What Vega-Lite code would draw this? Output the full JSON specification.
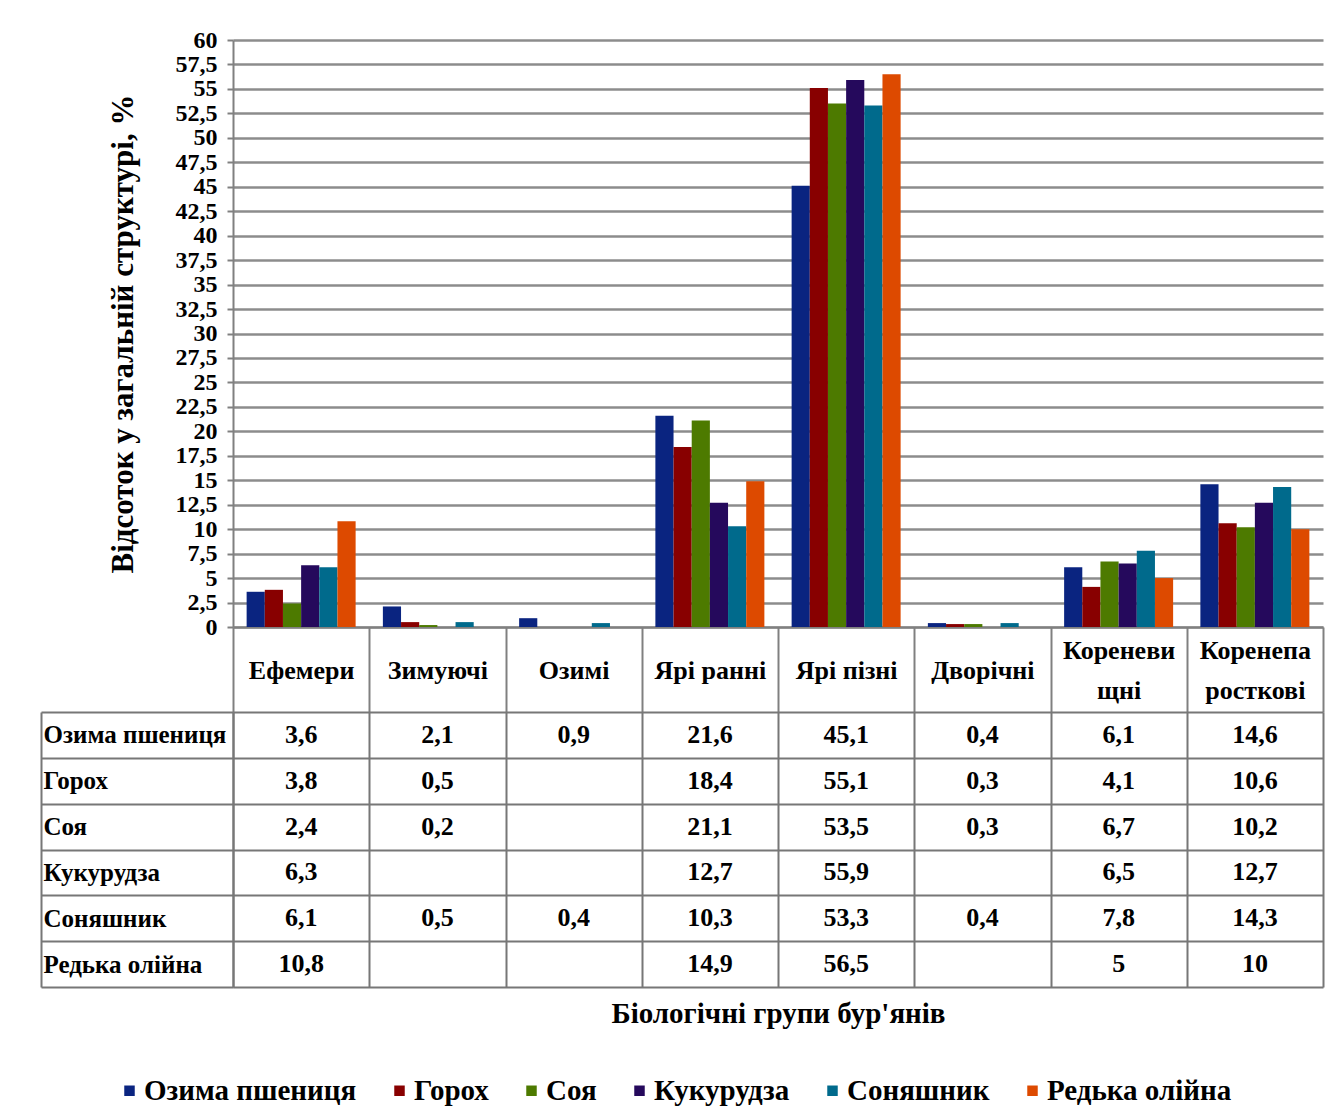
{
  "$schema": "https://vega.github.io/schema/vega-lite/v6.json",
  "padding": {"left": 40, "top": 28, "right": 10, "bottom": 5},
  "bounds": "flush",
  "spacing": 85,
  "config": {
    "locale": {"number": {"decimal": ",", "thousands": " ", "grouping": [3], "currency": ["", ""]}},
    "font": "Liberation Serif",
    "view": {"stroke": null},
    "axis": {
      "labelFont": "Liberation Serif", "labelFontWeight": "bold", "labelColor": "#000",
      "titleFont": "Liberation Serif", "titleFontWeight": "bold", "titleColor": "#000",
      "domainColor": "#808080", "tickColor": "#808080", "gridColor": "#8c8c8c",
      "domainWidth": 2, "tickWidth": 2, "gridWidth": 2.5
    }
  },
  "data": {"values": [
    {"group": "Ефемери", "crop": "Озима пшениця", "value": 3.6},
    {"group": "Ефемери", "crop": "Горох", "value": 3.8},
    {"group": "Ефемери", "crop": "Соя", "value": 2.4},
    {"group": "Ефемери", "crop": "Кукурудза", "value": 6.3},
    {"group": "Ефемери", "crop": "Соняшник", "value": 6.1},
    {"group": "Ефемери", "crop": "Редька олійна", "value": 10.8},
    {"group": "Зимуючі", "crop": "Озима пшениця", "value": 2.1},
    {"group": "Зимуючі", "crop": "Горох", "value": 0.5},
    {"group": "Зимуючі", "crop": "Соя", "value": 0.2},
    {"group": "Зимуючі", "crop": "Соняшник", "value": 0.5},
    {"group": "Озимі", "crop": "Озима пшениця", "value": 0.9},
    {"group": "Озимі", "crop": "Соняшник", "value": 0.4},
    {"group": "Ярі ранні", "crop": "Озима пшениця", "value": 21.6},
    {"group": "Ярі ранні", "crop": "Горох", "value": 18.4},
    {"group": "Ярі ранні", "crop": "Соя", "value": 21.1},
    {"group": "Ярі ранні", "crop": "Кукурудза", "value": 12.7},
    {"group": "Ярі ранні", "crop": "Соняшник", "value": 10.3},
    {"group": "Ярі ранні", "crop": "Редька олійна", "value": 14.9},
    {"group": "Ярі пізні", "crop": "Озима пшениця", "value": 45.1},
    {"group": "Ярі пізні", "crop": "Горох", "value": 55.1},
    {"group": "Ярі пізні", "crop": "Соя", "value": 53.5},
    {"group": "Ярі пізні", "crop": "Кукурудза", "value": 55.9},
    {"group": "Ярі пізні", "crop": "Соняшник", "value": 53.3},
    {"group": "Ярі пізні", "crop": "Редька олійна", "value": 56.5},
    {"group": "Дворічні", "crop": "Озима пшениця", "value": 0.4},
    {"group": "Дворічні", "crop": "Горох", "value": 0.3},
    {"group": "Дворічні", "crop": "Соя", "value": 0.3},
    {"group": "Дворічні", "crop": "Соняшник", "value": 0.4},
    {"group": "Кореневищні", "crop": "Озима пшениця", "value": 6.1},
    {"group": "Кореневищні", "crop": "Горох", "value": 4.1},
    {"group": "Кореневищні", "crop": "Соя", "value": 6.7},
    {"group": "Кореневищні", "crop": "Кукурудза", "value": 6.5},
    {"group": "Кореневищні", "crop": "Соняшник", "value": 7.8},
    {"group": "Кореневищні", "crop": "Редька олійна", "value": 5},
    {"group": "Коренепаросткові", "crop": "Озима пшениця", "value": 14.6},
    {"group": "Коренепаросткові", "crop": "Горох", "value": 10.6},
    {"group": "Коренепаросткові", "crop": "Соя", "value": 10.2},
    {"group": "Коренепаросткові", "crop": "Кукурудза", "value": 12.7},
    {"group": "Коренепаросткові", "crop": "Соняшник", "value": 14.3},
    {"group": "Коренепаросткові", "crop": "Редька олійна", "value": 10}
  ]},
  "vconcat": [
    {
      "width": 1090,
      "height": 587,
      "mark": {"type": "bar"},
      "encoding": {
        "x": {
          "field": "group", "type": "nominal",
          "sort": ["Ефемери", "Зимуючі", "Озимі", "Ярі ранні", "Ярі пізні", "Дворічні", "Кореневищні", "Коренепаросткові"],
          "scale": {"paddingInner": 0, "paddingOuter": 0},
          "axis": {
            "title": null, "labelAngle": 0, "tickBand": "extent", "tickSize": 85,
            "labelPadding": {"condition": {"test": "datum.value == 'Кореневищні' || datum.value == 'Коренепаросткові'", "value": -62}, "value": -42},
            "labelBaseline": "middle", "labelFontSize": 26, "labelLineHeight": 40,
            "labelExpr": "datum.value == 'Кореневищні' ? ['Кореневи', 'щні'] : datum.value == 'Коренепаросткові' ? ['Коренепа', 'росткові'] : datum.value"
          }
        },
        "xOffset": {
          "field": "crop",
          "sort": ["Озима пшениця", "Горох", "Соя", "Кукурудза", "Соняшник", "Редька олійна"],
          "scale": {"paddingInner": 0, "paddingOuter": 0.75}
        },
        "y": {
          "field": "value", "type": "quantitative",
          "scale": {"domain": [0, 60]},
          "axis": {
            "values": [0, 2.5, 5, 7.5, 10, 12.5, 15, 17.5, 20, 22.5, 25, 27.5, 30, 32.5, 35, 37.5, 40, 42.5, 45, 47.5, 50, 52.5, 55, 57.5, 60],
            "format": ".1~f", "labelOverlap": false, "labelFontSize": 24, "tickSize": 6, "labelPadding": 10,
            "title": "Відсоток у загальній структурі, %", "titleFontSize": 31, "titlePadding": 36
          }
        },
        "color": {
          "field": "crop", "type": "nominal",
          "sort": ["Озима пшениця", "Горох", "Соя", "Кукурудза", "Соняшник", "Редька олійна"],
          "scale": {"range": ["#0a2480", "#880000", "#4d7a00", "#25095c", "#006a8c", "#dd4a00"]},
          "legend": {
            "orient": "none", "legendX": -118, "legendY": 1036, "direction": "horizontal", "title": null,
            "symbolType": "square", "symbolSize": 110, "symbolStrokeWidth": 0,
            "labelFont": "Liberation Serif", "labelFontWeight": "bold", "labelFontSize": 29, "labelColor": "#000",
            "labelLimit": 300, "columnPadding": 28, "labelOffset": 0
          }
        }
      }
    },
    {
      "width": 1090,
      "height": 275,
      "layer": [
        {
          "mark": {"type": "text", "fontWeight": "bold", "fontSize": 26, "font": "Liberation Serif", "color": "#000"},
          "encoding": {
            "x": {
              "field": "group", "type": "nominal",
              "sort": ["Ефемери", "Зимуючі", "Озимі", "Ярі ранні", "Ярі пізні", "Дворічні", "Кореневищні", "Коренепаросткові"],
              "scale": {"paddingInner": 0, "paddingOuter": 0},
              "axis": {
                "labels": false, "ticks": false, "domain": false, "grid": true, "tickBand": "extent",
                "gridColor": "#777", "gridWidth": 2,
                "title": "Біологічні групи бур'янів", "titleFontSize": 29, "titlePadding": 12
              }
            },
            "y": {
              "field": "crop", "type": "nominal",
              "sort": ["Озима пшениця", "Горох", "Соя", "Кукурудза", "Соняшник", "Редька олійна"],
              "scale": {"paddingInner": 0, "paddingOuter": 0},
              "axis": {
                "title": null, "grid": true, "tickBand": "extent", "tickSize": 192,
                "gridColor": "#777", "gridWidth": 2, "tickColor": "#777", "domainColor": "#777",
                "labelAlign": "left", "labelBaseline": "middle", "labelPadding": -2,
                "labelFontSize": 25, "labelLimit": 400
              }
            },
            "text": {"field": "value", "type": "quantitative", "format": ".1~f"}
          }
        },
        {
          "mark": {"type": "text", "opacity": 0},
          "encoding": {
            "x": {"field": "group", "type": "nominal", "sort": ["Ефемери", "Зимуючі", "Озимі", "Ярі ранні", "Ярі пізні", "Дворічні", "Кореневищні", "Коренепаросткові"]},
            "y": {
              "field": "crop", "type": "nominal",
              "sort": ["Озима пшениця", "Горох", "Соя", "Кукурудза", "Соняшник", "Редька олійна"],
              "axis": {"orient": "left", "offset": 192, "labels": false, "ticks": false, "grid": false, "domain": true, "domainColor": "#777", "title": null}
            },
            "text": {"value": ""}
          }
        }
      ],
      "resolve": {"axis": {"y": "independent"}}
    }
  ]
}
